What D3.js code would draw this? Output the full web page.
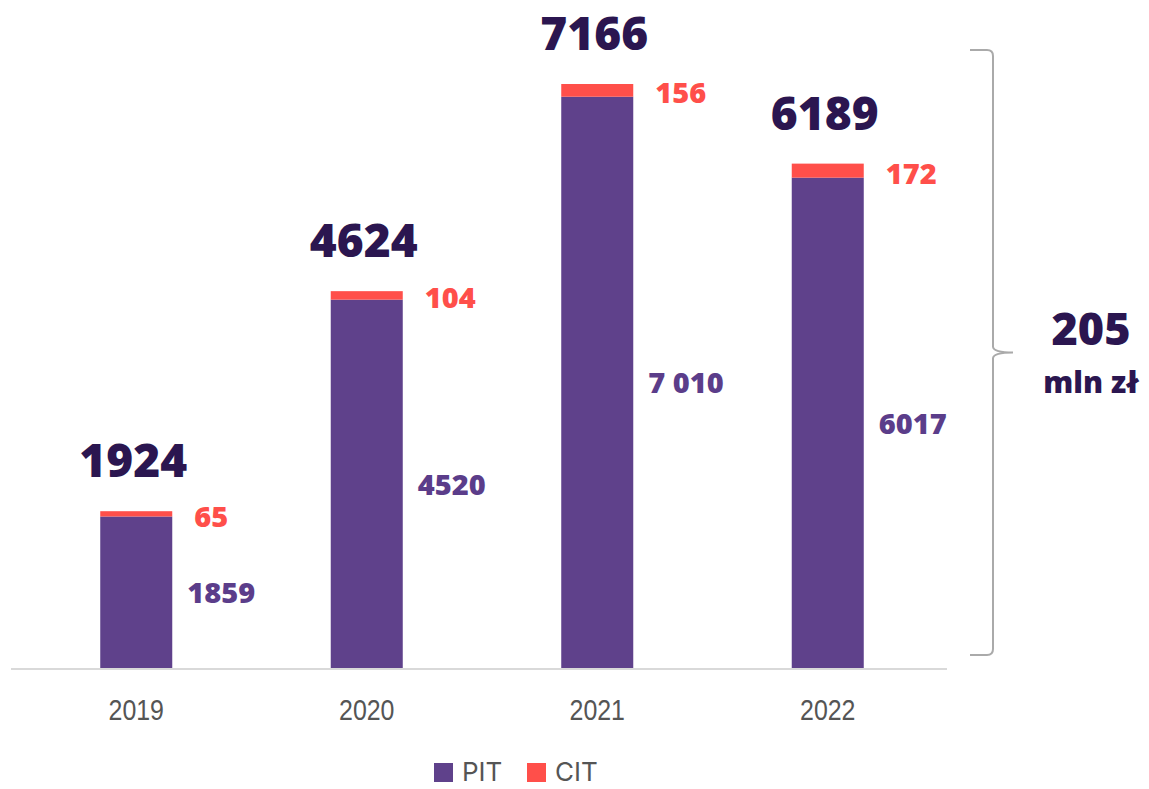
<!DOCTYPE html>
<html>
<head>
<meta charset="utf-8">
<script src="https://cdn.jsdelivr.net/npm/d3@7"></script>
<style>
  html, body { margin: 0; padding: 0; background: #fff; }
  svg { display: block; }
</style>
</head>
<body>
<div id="chart"></div>
<script>
const years = ['2019', '2020', '2021', '2022']
const pit = [1859, 4520, 7010, 6017]
const cit = [65, 104, 156, 172]
const totals = [1924, 4624, 7166, 6189]
const pitLabels = ['1859', '4520', '7 010', '6017']
const seriesNames = ['PIT', 'CIT']
const bracketValue = '205'
const bracketUnit = 'mln zł'

const width = 1149
const height = 789
const baseline = 668

const colors = { PIT: '#5f418b', CIT: '#ff4f4a' }
const numFont = '"Open Sans", sans-serif'

const svg = d3
  .select('#chart')
  .append('svg')
  .attr('width', width)
  .attr('height', height)

const xPositionScale = d3
  .scaleBand()
  .domain(years)
  .range([21, 943])
  .paddingInner(0.6876)
  .paddingOuter(0.3438)

const yPositionScale = d3
  .scaleLinear()
  .domain([0, d3.max(totals)])
  .range([baseline, 84])

const datapoints = years.map((y, i) => ({
  year: y,
  PIT: pit[i],
  CIT: cit[i],
  total: totals[i],
  pitLabel: pitLabels[i]
}))

const stacked = d3.stack().keys(seriesNames)(datapoints)

// axis line
svg
  .append('line')
  .attr('x1', 11)
  .attr('x2', 947)
  .attr('y1', baseline + 1)
  .attr('y2', baseline + 1)
  .attr('stroke', '#d9d9d9')
  .attr('stroke-width', 2)

// bars
svg
  .selectAll('g.series')
  .data(stacked)
  .enter()
  .append('g')
  .attr('class', 'series')
  .attr('fill', d => colors[d.key])
  .selectAll('rect')
  .data(d => d)
  .enter()
  .append('rect')
  .attr('x', d => xPositionScale(d.data.year))
  .attr('width', xPositionScale.bandwidth())
  .attr('y', d => yPositionScale(d[1]))
  .attr('height', d => yPositionScale(d[0]) - yPositionScale(d[1]))

// year labels (condensed look)
svg
  .selectAll('.year')
  .data(years)
  .enter()
  .append('text')
  .attr('class', 'year')
  .attr('transform', d => 'translate(' + (xPositionScale(d) + xPositionScale.bandwidth() / 2) + ',720) scale(0.86,1)')
  .attr('text-anchor', 'middle')
  .attr('font-family', '"Liberation Sans", sans-serif')
  .attr('font-size', 29)
  .attr('fill', '#555')
  .text(d => d)

// totals on top
svg
  .selectAll('.total')
  .data(datapoints)
  .enter()
  .append('text')
  .attr('class', 'total')
  .attr('x', d => xPositionScale(d.year) + xPositionScale.bandwidth() / 2 - 3)
  .attr('y', d => yPositionScale(d.total) - 34)
  .attr('text-anchor', 'middle')
  .attr('font-family', numFont)
  .attr('font-weight', 800)
  .attr('font-size', 46)
  .attr('fill', '#2b1650')
  .text(d => d.total)

// CIT labels
svg
  .selectAll('.cit-label')
  .data(datapoints)
  .enter()
  .append('text')
  .attr('class', 'cit-label')
  .attr('x', d => xPositionScale(d.year) + xPositionScale.bandwidth() + 22)
  .attr('y', d => (yPositionScale(d.total) + yPositionScale(d.PIT)) / 2 + 13)
  .attr('font-family', numFont)
  .attr('font-weight', 800)
  .attr('font-size', 29)
  .attr('fill', colors.CIT)
  .text(d => d.CIT)

// PIT labels
svg
  .selectAll('.pit-label')
  .data(datapoints)
  .enter()
  .append('text')
  .attr('class', 'pit-label')
  .attr('x', d => xPositionScale(d.year) + xPositionScale.bandwidth() + 15)
  .attr('y', d => (yPositionScale(d.PIT) + baseline) / 2 + 11)
  .attr('font-family', numFont)
  .attr('font-weight', 800)
  .attr('font-size', 29)
  .attr('fill', '#5b3d8a')
  .text(d => d.pitLabel)

// bracket
const bTop = 50
const bBot = 655
const bMid = (bTop + bBot) / 2
const bx = 993
const bracket = d3.path()
bracket.moveTo(970, bTop)
bracket.lineTo(bx - 6, bTop)
bracket.quadraticCurveTo(bx, bTop, bx, bTop + 6)
bracket.lineTo(bx, bMid - 6)
bracket.quadraticCurveTo(bx, bMid, bx + 20, bMid)
bracket.quadraticCurveTo(bx, bMid, bx, bMid + 6)
bracket.lineTo(bx, bBot - 6)
bracket.quadraticCurveTo(bx, bBot, bx - 6, bBot)
bracket.lineTo(970, bBot)

svg
  .append('path')
  .attr('d', bracket.toString())
  .attr('fill', 'none')
  .attr('stroke', '#aaa')
  .attr('stroke-width', 2)

svg
  .append('text')
  .attr('x', 1091)
  .attr('y', 345)
  .attr('text-anchor', 'middle')
  .attr('font-family', numFont)
  .attr('font-weight', 800)
  .attr('font-size', 45)
  .attr('fill', '#2b1650')
  .text(bracketValue)

svg
  .append('text')
  .attr('x', 1091)
  .attr('y', 393)
  .attr('text-anchor', 'middle')
  .attr('font-family', numFont)
  .attr('font-weight', 800)
  .attr('font-size', 30)
  .attr('fill', '#2b1650')
  .text(bracketUnit)

// legend
const legend = svg
  .selectAll('.legend')
  .data(seriesNames)
  .enter()
  .append('g')
  .attr('class', 'legend')
  .attr('transform', (d, i) => 'translate(' + (434 + i * 93) + ',763)')

legend
  .append('rect')
  .attr('width', 19)
  .attr('height', 19)
  .attr('fill', d => colors[d])

legend
  .append('text')
  .attr('x', 28)
  .attr('y', 18)
  .attr('font-family', 'Inter, sans-serif')
  .attr('font-size', 26)
  .attr('fill', '#555')
  .text(d => d)
</script>
</body>
</html>
